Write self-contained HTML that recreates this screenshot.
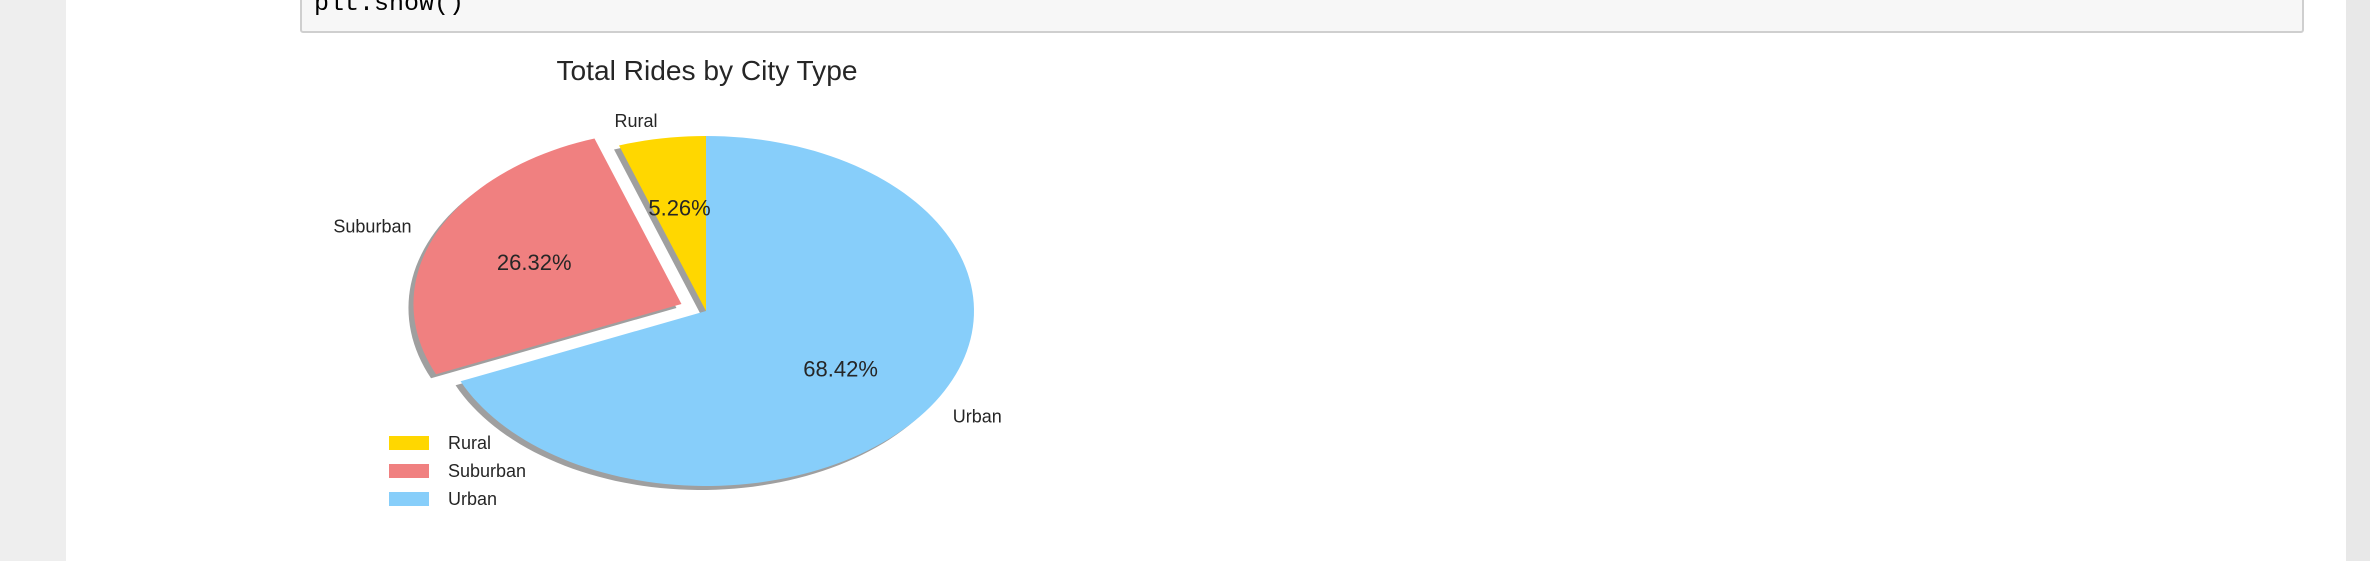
<!DOCTYPE html>
<html><head><meta charset="utf-8"><style>
html,body{margin:0;padding:0;width:2370px;height:561px;overflow:hidden;background:#eeeeee}
svg{display:block}
</style></head><body>
<svg id="chart" width="2370" height="561" xmlns="http://www.w3.org/2000/svg">
  <rect x="0" y="0" width="2370" height="561" fill="#eeeeee"/>
  <rect x="66" y="0" width="2280" height="561" fill="#ffffff"/>
  <rect x="2346" y="0" width="24" height="561" fill="#e8e8e8"/>
  <rect x="301" y="-10" width="2002" height="42" rx="2" fill="#f7f7f7" stroke="#cfcfcf" stroke-width="2"/>
  <text x="314" y="10" font-family="Liberation Mono, monospace" font-size="25" fill="#000">plt.show()</text>
  <text x="707" y="80" text-anchor="middle" font-family="Liberation Sans, sans-serif" font-size="28" fill="#262626" textLength="301" lengthAdjust="spacingAndGlyphs">Total Rides by City Type</text>
  <g id="pie"></g>
  <g id="legend"></g>
</svg>
<script>
const categories = ["Rural", "Suburban", "Urban"];
const values = [5.26, 26.32, 68.42];
const colors = ["#FFD700", "#F08080", "#87CEFA"];
const explode = [0, 0.1, 0];
const startAngle = 90;

const NS = "http://www.w3.org/2000/svg";
const cx = 706, cy = 311, R = 175, sx = 268 / 175;
const pie = document.getElementById('pie');
const legend = document.getElementById('legend');
const total = values.reduce((a, b) => a + b, 0);

function px(ux) { return cx + ux * sx; }
function py(uy) { return cy - uy; }
function wedgePath(a0, a1, ox, oy, dx, dy) {
  const pts = [];
  const n = Math.max(4, Math.ceil((a1 - a0) / 2));
  pts.push([px(ox) + dx, py(oy) + dy]);
  for (let i = 0; i <= n; i++) {
    const a = (a0 + (a1 - a0) * i / n) * Math.PI / 180;
    pts.push([px(ox + R * Math.cos(a)) + dx, py(oy + R * Math.sin(a)) + dy]);
  }
  return 'M' + pts.map(p => p[0].toFixed(2) + ',' + p[1].toFixed(2)).join('L') + 'Z';
}

const shadows = document.createElementNS(NS, 'g');


pie.appendChild(shadows);
const wedges = document.createElementNS(NS, 'g');


pie.appendChild(wedges);
const labels = document.createElementNS(NS, 'g');


pie.appendChild(labels);

let a = startAngle;
values.forEach((v, i) => {
  const span = v / total * 360;
  const a0 = a, a1 = a + span, mid = (a0 + a1) / 2 * Math.PI / 180;
  const ox = explode[i] * R * Math.cos(mid), oy = explode[i] * R * Math.sin(mid);

  const sh = document.createElementNS(NS, 'path');
  sh.setAttribute('d', wedgePath(a0, a1, ox, oy, -5, 4));
  sh.setAttribute('fill', '#7f7f7f');
  sh.setAttribute('fill-opacity', '0.75');
  
  
  shadows.appendChild(sh);

  const w = document.createElementNS(NS, 'path');
  w.setAttribute('d', wedgePath(a0, a1, ox, oy, 0, 0));
  w.setAttribute('fill', colors[i]);
  
  
  wedges.appendChild(w);

  const lx = px(ox + 1.1 * R * Math.cos(mid)), ly = py(oy + 1.1 * R * Math.sin(mid));
  const t = document.createElementNS(NS, 'text');
  t.setAttribute('x', lx);
  t.setAttribute('y', ly + 6);
  t.setAttribute('text-anchor', Math.cos(mid) < 0 ? 'end' : 'start');
  t.setAttribute('font-family', 'Liberation Sans, sans-serif');
  t.setAttribute('font-size', '18');
  t.setAttribute('fill', '#262626');
  t.textContent = categories[i];
  
  
  labels.appendChild(t);

  const qx = px(ox + 0.6 * R * Math.cos(mid)), qy = py(oy + 0.6 * R * Math.sin(mid));
  const p = document.createElementNS(NS, 'text');
  p.setAttribute('x', qx);
  p.setAttribute('y', qy + 8);
  p.setAttribute('text-anchor', 'middle');
  p.setAttribute('font-family', 'Liberation Sans, sans-serif');
  p.setAttribute('font-size', '22');
  p.setAttribute('fill', '#262626');
  p.textContent = (v / total * 100).toFixed(2) + '%';
  
  
  labels.appendChild(p);

  const ey = 436 + i * 28;
  const sw = document.createElementNS(NS, 'rect');
  sw.setAttribute('x', 389);
  sw.setAttribute('y', ey);
  sw.setAttribute('width', 40);
  sw.setAttribute('height', 14);
  sw.setAttribute('fill', colors[i]);
  
  
  legend.appendChild(sw);
  const lt = document.createElementNS(NS, 'text');
  lt.setAttribute('x', 448);
  lt.setAttribute('y', ey + 13);
  lt.setAttribute('font-family', 'Liberation Sans, sans-serif');
  lt.setAttribute('font-size', '18');
  lt.setAttribute('fill', '#262626');
  lt.textContent = categories[i];
  
  
  legend.appendChild(lt);

  a = a1;
});
</script>
</body></html>
